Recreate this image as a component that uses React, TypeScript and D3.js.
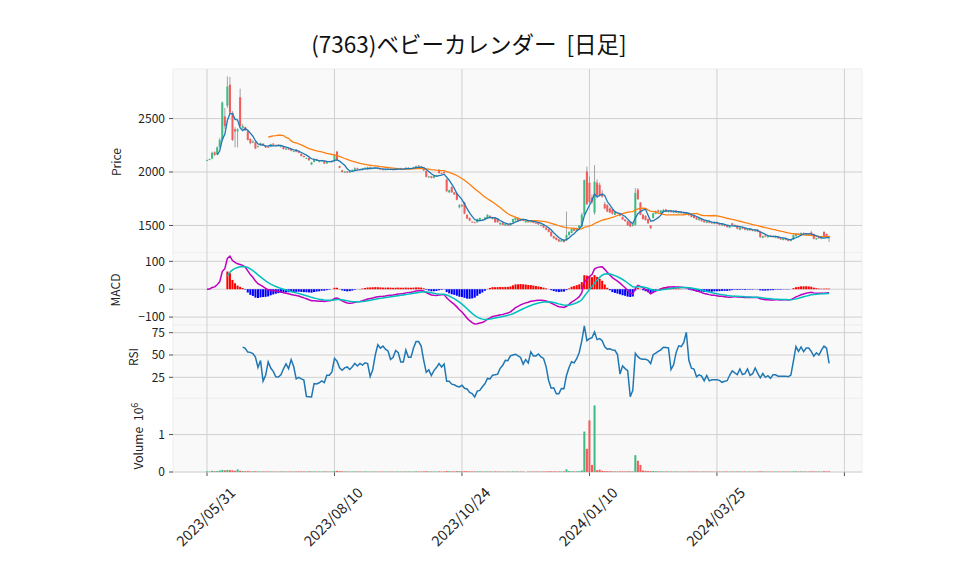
import React from 'react';
import * as d3 from 'd3';

const W = 958;
const H = 575;
const FONT = '"Noto Sans CJK JP", "DejaVu Sans", sans-serif';

const title = '(7363)ベビーカレンダー  [日足]';

// daily candles, one entry per trading day from 2023/05/31
const opens = [
  2108, 2115, 2125, 2185, 2165, 2235, 2300, 2520, 2620, 2817,
  2555, 2400, 2380, 2700, 2410, 2420, 2380, 2310, 2275, 2280,
  2235, 2250, 2265, 2245, 2235, 2240, 2265, 2250, 2255, 2235,
  2240, 2210, 2220, 2215, 2190, 2210, 2190, 2170, 2150, 2125,
  2130, 2070, 2095, 2120, 2095, 2100, 2105, 2080, 2100, 2095,
  2100, 2190, 2055, 2015, 1995, 2005, 1995, 2010, 2015, 2035,
  2025, 2020, 2030, 2025, 2045, 2030, 2035, 2040, 2030, 2025,
  2020, 2025, 2030, 2025, 2020, 2030, 2035, 2025, 2030, 2040,
  2030, 2035, 2035, 2060, 2050, 2040, 2010, 1950, 1960, 1945,
  1965, 2020, 1990, 2000, 1930, 1810, 1860, 1810, 1800, 1670,
  1690, 1715, 1600, 1570, 1535, 1530, 1530, 1545, 1555, 1555,
  1565, 1590, 1560, 1575, 1560, 1510, 1525, 1500, 1510, 1500,
  1530, 1550, 1570, 1545, 1560, 1530, 1545, 1530, 1545, 1525,
  1530, 1495, 1505, 1480, 1465, 1440, 1400, 1385, 1370, 1350,
  1365, 1360, 1410, 1430, 1470, 1450, 1475, 1490, 1600, 2005, 1900,
  1760, 1620, 1900, 1880, 1800, 1700, 1690, 1660, 1650, 1600,
  1615, 1610, 1580, 1555, 1540, 1530, 1495, 1505, 1835, 1715,
  1600, 1590, 1560, 1500, 1570, 1610, 1640, 1615, 1625, 1650,
  1625, 1640, 1620, 1640, 1615, 1630, 1620, 1605, 1615, 1600,
  1590, 1575, 1550, 1560, 1545, 1525, 1540, 1530, 1515, 1530,
  1520, 1500, 1510, 1500, 1480, 1520, 1490, 1500, 1460, 1480,
  1475, 1455, 1470, 1460, 1445, 1460, 1445, 1385, 1405, 1390,
  1405, 1400, 1385, 1395, 1385, 1365, 1380, 1370, 1355, 1370,
  1400, 1425, 1410, 1430, 1415, 1425, 1435, 1420, 1370, 1390,
  1375, 1440, 1420, 1400,
];

const highs = [
  2115, 2125, 2190, 2195, 2240, 2320, 2660, 2600, 2895, 2890,
  2570, 2420, 2410, 2780, 2450, 2425, 2385, 2315, 2300, 2285,
  2250, 2275, 2270, 2250, 2245, 2265, 2270, 2260, 2260, 2245,
  2245, 2225, 2225, 2220, 2200, 2215, 2195, 2175, 2155, 2135,
  2135, 2095, 2125, 2125, 2105, 2115, 2110, 2105, 2105, 2110,
  2170, 2200, 2060, 2020, 2010, 2010, 2015, 2025, 2045, 2040,
  2030, 2035, 2045, 2050, 2050, 2040, 2045, 2045, 2035, 2030,
  2030, 2035, 2035, 2030, 2035, 2040, 2040, 2035, 2045, 2045,
  2040, 2050, 2060, 2065, 2055, 2045, 2015, 1965, 1965, 1970,
  1975, 2025, 1995, 2005, 1935, 1835, 1865, 1815, 1805, 1700,
  1700, 1720, 1605, 1575, 1540, 1535, 1565, 1575, 1560, 1580,
  1605, 1595, 1580, 1580, 1565, 1530, 1530, 1520, 1515, 1525,
  1565, 1580, 1575, 1565, 1565, 1550, 1550, 1550, 1550, 1530,
  1535, 1510, 1510, 1485, 1470, 1445, 1405, 1390, 1375, 1370,
  1370, 1630, 1445, 1475, 1480, 1480, 1505, 1620, 1930, 2050, 1960,
  1790, 2065, 1930, 1900, 1830, 1720, 1700, 1670, 1655, 1635,
  1620, 1615, 1585, 1560, 1545, 1535, 1515, 1850, 1850, 1720,
  1610, 1595, 1565, 1505, 1620, 1640, 1650, 1645, 1655, 1655,
  1645, 1645, 1640, 1645, 1635, 1635, 1625, 1625, 1620, 1605,
  1595, 1580, 1570, 1565, 1550, 1545, 1545, 1535, 1535, 1535,
  1525, 1515, 1515, 1505, 1500, 1525, 1510, 1505, 1485, 1485,
  1480, 1475, 1475, 1465, 1465, 1465, 1450, 1405, 1410, 1410,
  1410, 1405, 1405, 1400, 1390, 1385, 1385, 1375, 1375, 1415,
  1430, 1430, 1435, 1435, 1430, 1430, 1450, 1425, 1385, 1395,
  1390, 1445, 1425, 1405,
];

const lows = [
  2105, 2110, 2120, 2150, 2160, 2220, 2290, 2400, 2600, 2540,
  2290, 2230, 2230, 2420, 2400, 2385, 2295, 2260, 2270, 2215,
  2230, 2245, 2245, 2225, 2225, 2235, 2250, 2245, 2240, 2230,
  2210, 2205, 2205, 2195, 2185, 2185, 2175, 2145, 2135, 2120,
  2105, 2065, 2090, 2105, 2090, 2095, 2075, 2075, 2090, 2090,
  2095, 2105, 2035, 1995, 1990, 1990, 1990, 2005, 2010, 2020,
  2015, 2015, 2025, 2020, 2025, 2025, 2030, 2025, 2020, 2015,
  2015, 2020, 2020, 2015, 2015, 2025, 2020, 2020, 2025, 2025,
  2025, 2030, 2030, 2045, 2040, 2010, 1950, 1945, 1940, 1940,
  1960, 1985, 1980, 1985, 1810, 1805, 1805, 1785, 1735, 1660,
  1675, 1605, 1560, 1540, 1525, 1520, 1525, 1540, 1545, 1550,
  1560, 1565, 1555, 1525, 1525, 1505, 1500, 1495, 1495, 1495,
  1525, 1545, 1540, 1540, 1540, 1525, 1525, 1525, 1520, 1515,
  1505, 1490, 1475, 1455, 1435, 1395, 1375, 1360, 1345, 1345,
  1340, 1355, 1405, 1425, 1445, 1445, 1470, 1480, 1595, 1690, 1710,
  1700, 1600, 1770, 1770, 1760, 1650, 1625, 1615, 1600, 1595,
  1605, 1585, 1550, 1535, 1495, 1485, 1490, 1500, 1740, 1595,
  1555, 1545, 1515, 1465, 1565, 1605, 1620, 1610, 1620, 1625,
  1620, 1620, 1615, 1615, 1610, 1610, 1605, 1600, 1590, 1575,
  1565, 1550, 1545, 1535, 1525, 1520, 1520, 1515, 1510, 1510,
  1500, 1495, 1490, 1480, 1475, 1495, 1485, 1465, 1455, 1465,
  1455, 1450, 1450, 1445, 1440, 1435, 1385, 1380, 1390, 1385,
  1390, 1385, 1380, 1375, 1365, 1360, 1360, 1350, 1350, 1365,
  1395, 1410, 1405, 1415, 1410, 1415, 1410, 1370, 1365, 1375,
  1370, 1385, 1390, 1345,
];

const closes = [
  2112, 2120, 2180, 2160, 2230, 2300, 2650, 2430, 2800, 2555,
  2300, 2380, 2400, 2430, 2430, 2390, 2300, 2270, 2285, 2220,
  2240, 2270, 2250, 2230, 2230, 2260, 2255, 2250, 2245, 2240,
  2215, 2220, 2210, 2200, 2195, 2190, 2180, 2150, 2140, 2130,
  2110, 2090, 2120, 2110, 2100, 2110, 2080, 2100, 2095, 2105,
  2160, 2110, 2040, 2000, 2005, 1995, 2010, 2020, 2035, 2025,
  2020, 2030, 2040, 2045, 2030, 2035, 2040, 2030, 2025, 2020,
  2025, 2030, 2025, 2020, 2030, 2035, 2025, 2030, 2040, 2030,
  2035, 2045, 2055, 2050, 2045, 2015, 1955, 1960, 1945, 1965,
  1970, 1990, 1985, 1990, 1820, 1830, 1810, 1790, 1740, 1690,
  1680, 1610, 1565, 1545, 1530, 1525, 1560, 1570, 1550, 1575,
  1600, 1570, 1575, 1530, 1530, 1525, 1505, 1515, 1498, 1520,
  1560, 1575, 1545, 1560, 1545, 1545, 1530, 1545, 1525, 1520,
  1510, 1505, 1480, 1460, 1440, 1400, 1380, 1365, 1350, 1365,
  1345, 1410, 1440, 1470, 1450, 1475, 1500, 1600, 1925, 1700, 1720,
  1720, 1910, 1780, 1780, 1770, 1660, 1630, 1620, 1610, 1625,
  1610, 1590, 1555, 1540, 1500, 1490, 1510, 1805, 1745, 1600,
  1560, 1550, 1520, 1475, 1615, 1630, 1625, 1640, 1645, 1630,
  1640, 1625, 1635, 1620, 1630, 1615, 1610, 1620, 1595, 1580,
  1570, 1555, 1565, 1540, 1530, 1540, 1525, 1520, 1530, 1515,
  1505, 1510, 1495, 1485, 1495, 1500, 1505, 1470, 1480, 1470,
  1460, 1470, 1455, 1450, 1460, 1440, 1390, 1400, 1395, 1405,
  1395, 1390, 1400, 1380, 1370, 1380, 1365, 1355, 1370, 1410,
  1425, 1415, 1430, 1420, 1425, 1420, 1415, 1375, 1380, 1380,
  1385, 1390, 1395, 1385,
];

const volumes = [
  15000, 12000, 30000, 20000, 25000, 40000, 55000, 45000, 55000, 50000,
  45000, 30000, 70000, 35000, 25000, 20000, 22000, 18000, 15000, 20000,
  15000, 14000, 12000, 13000, 12000, 14000, 12000, 10000, 11000, 12000,
  14000, 12000, 11000, 13000, 12000, 14000, 13000, 15000, 14000, 13000,
  16000, 15000, 14000, 12000, 13000, 12000, 14000, 13000, 12000, 12000,
  25000, 30000, 22000, 18000, 14000, 12000, 13000, 12000, 14000, 12000,
  12000, 11000, 13000, 12000, 10000, 11000, 12000, 10000, 11000, 10000,
  11000, 10000, 12000, 10000, 11000, 12000, 10000, 11000, 13000, 12000,
  11000, 12000, 15000, 14000, 12000, 16000, 20000, 14000, 13000, 12000,
  12000, 15000, 12000, 13000, 25000, 18000, 16000, 15000, 20000, 22000,
  16000, 22000, 20000, 18000, 15000, 14000, 16000, 15000, 12000, 13000,
  15000, 13000, 12000, 14000, 13000, 12000, 12000, 11000, 12000, 12000,
  14000, 13000, 12000, 12000, 11000, 0, 12000, 11000, 12000, 11000,
  12000, 11000, 13000, 14000, 18000, 16000, 15000, 14000, 15000, 14000,
  15000, 70000, 25000, 20000, 18000, 18000, 22000, 40000, 1080000, 620000, 1380000,
  190000, 1780000, 50000, 60000, 30000, 25000, 22000, 20000, 18000, 15000,
  14000, 15000, 16000, 14000, 18000, 16000, 15000, 450000, 300000, 190000,
  40000, 30000, 25000, 22000, 25000, 20000, 18000, 16000, 15000, 14000,
  13000, 12000, 13000, 12000, 12000, 11000, 11000, 12000, 12000, 13000,
  12000, 13000, 11000, 12000, 12000, 11000, 12000, 11000, 10000, 11000,
  12000, 11000, 12000, 11000, 10000, 12000, 11000, 13000, 12000, 11000,
  11000, 10000, 11000, 10000, 11000, 12000, 18000, 14000, 12000, 11000,
  11000, 10000, 11000, 12000, 11000, 10000, 11000, 12000, 11000, 16000,
  15000, 13000, 14000, 12000, 12000, 11000, 14000, 16000, 13000, 12000,
  12000, 18000, 15000, 16000,
];

const xTickIdx = [0, 50, 100, 150, 200, 250];
const xTickLabels = ['2023/05/31', '2023/08/10', '2023/10/24', '2024/01/10', '2024/03/25', ''];
const priceTicks = [1500, 2000, 2500];
const macdTicks = [-100, 0, 100];
const rsiTicks = [25, 50, 75];
const volTicks = [0, 1000000];

const UP = '#3dbd84';
const DOWN = '#f45b5b';

type Pt = number | null;

const sma = (a: number[], n: number): Pt[] =>
  a.map((_, i) => (i < n - 1 ? null : (d3.mean(a.slice(i - n + 1, i + 1)) as number)));

const ema = (a: number[], n: number): number[] => {
  const k = 2 / (n + 1);
  const out: number[] = [];
  a.forEach((v, i) => out.push(i === 0 ? v : out[i - 1] + k * (v - out[i - 1])));
  return out;
};

// RSI with plain rolling means of gains and losses
const rsiCalc = (a: number[], n: number): Pt[] =>
  a.map((_, i) => {
    if (i < n) return null;
    let g = 0, l = 0;
    for (let j = i - n + 1; j <= i; j++) {
      const d = a[j] - a[j - 1];
      if (d > 0) g += d; else l -= d;
    }
    return l === 0 ? 100 : 100 - 100 / (1 + g / l);
  });

const ma5 = sma(closes, 5);
const ma25 = sma(closes, 25);
const e12 = ema(closes, 12);
const e26 = ema(closes, 26);
const macd = closes.map((_, i) => e12[i] - e26[i]);
const sigAll = ema(macd, 9);
const signal: Pt[] = sigAll.map((v, i) => (i < 8 ? null : v));
const hist: Pt[] = macd.map((v, i) => (i < 8 ? null : v - sigAll[i]));
const rsi = rsiCalc(closes, 14);

const L = 173, R = 862;
const panels = {
  price: { top: 69, bottom: 252.5 },
  macd: { top: 252.5, bottom: 325 },
  rsi: { top: 325, bottom: 398.3 },
  vol: { top: 398.3, bottom: 472 },
};

const x = d3.scaleLinear().domain([-13.33, 256.9]).range([L, R]);
const yP = d3.scaleLinear().domain([1247, 2964]).range([panels.price.bottom, panels.price.top]);
const yM = d3.scaleLinear().domain([-128.4, 131.7]).range([panels.macd.bottom, panels.macd.top]);
const yR = d3.scaleLinear().domain([1.5, 83.6]).range([panels.rsi.bottom, panels.rsi.top]);
const yV = d3.scaleLinear().domain([0, 1970000]).range([panels.vol.bottom, panels.vol.top]);

const bw = (x(1) - x(0)) * 0.8;

const linePath = (vals: Pt[], y: d3.ScaleLinear<number, number>) =>
  d3
    .line<Pt>()
    .defined((d) => d !== null)
    .x((_, i) => x(i))
    .y((d) => y(d as number))(vals) || '';

const fmt = (v: number) => (v < 0 ? '\u2212' + Math.abs(v) : String(v));

export default function App() {
  const tickText = { fontFamily: FONT, fontSize: 12, fill: '#222' };
  const yAxis = (ticks: number[], y: d3.ScaleLinear<number, number>, label: (v: number) => string, key: string) =>
    ticks.map((t) => (
      <g key={key + t}>
        <line x1={L} x2={R} y1={y(t)} y2={y(t)} stroke="#d0d0d0" strokeWidth={1} />
        <line x1={L - 4} x2={L} y1={y(t)} y2={y(t)} stroke="#222" strokeWidth={0.8} />
        <text x={L - 8} y={y(t)} dy="0.35em" textAnchor="end" {...tickText}>
          {label(t)}
        </text>
      </g>
    ));

  return (
    <div style={{ position: 'absolute', left: 0, top: 0 }}>
      <svg width={W} height={H} style={{ display: 'block', background: '#fff' }}>
        <text x={469} y={53} textAnchor="middle" fontFamily={FONT} fontSize={22.5} fill="#111" style={{ whiteSpace: 'pre' }}>
          {title}
        </text>

        {Object.entries(panels).map(([k, p]) => (
          <rect key={k} x={L} y={p.top} width={R - L} height={p.bottom - p.top} fill="#f9f9f9" stroke="#eeeeee" strokeWidth={1} />
        ))}

        {xTickIdx.map((t) => (
          <g key={'xt' + t}>
            <line x1={x(t)} x2={x(t)} y1={panels.price.top} y2={panels.vol.bottom} stroke="#d0d0d0" strokeWidth={1} />
            <line x1={x(t)} x2={x(t)} y1={panels.vol.bottom} y2={panels.vol.bottom + 4} stroke="#222" strokeWidth={0.8} />
          </g>
        ))}
        {xTickIdx.map((t, i) => (
          <text key={'xl' + t} transform={`translate(${x(t) - 1},517) rotate(-45)`} textAnchor="middle" dy="0.35em" fontFamily={FONT} fontSize={14.5} fill="#222">
            {xTickLabels[i]}
          </text>
        ))}

        {yAxis(priceTicks, yP, fmt, 'p')}
        {yAxis(macdTicks, yM, fmt, 'm')}
        {yAxis(rsiTicks, yR, fmt, 'r')}
        {yAxis(volTicks, yV, (v) => String(v / 1e6), 'v')}

        {/* candles */}
        {closes.map((c, i) => {
          const o = opens[i];
          const up = c >= o;
          const top = yP(Math.max(o, c));
          const h = Math.max(yP(Math.min(o, c)) - top, 0.8);
          return (
            <g key={'c' + i}>
              <line x1={x(i)} x2={x(i)} y1={yP(highs[i])} y2={yP(lows[i])} stroke="#999" strokeWidth={0.9} />
              <rect x={x(i) - bw / 2} y={top} width={bw} height={h} fill={up ? UP : DOWN} />
            </g>
          );
        })}
        <path d={linePath(ma25, yP)} fill="none" stroke="#ff7f0e" strokeWidth={1.3} />
        <path d={linePath(ma5, yP)} fill="none" stroke="#1f77b4" strokeWidth={1.3} />

        {/* MACD */}
        {hist.map((h, i) =>
          h === null ? null : (
            <rect
              key={'h' + i}
              x={x(i) - bw / 2}
              y={Math.min(yM(h), yM(0))}
              width={bw}
              height={Math.abs(yM(h) - yM(0))}
              fill={h >= 0 ? '#ff0000' : '#0000ff'}
            />
          )
        )}
        <path d={linePath(macd, yM)} fill="none" stroke="#bf00bf" strokeWidth={1.5} />
        <path d={linePath(signal, yM)} fill="none" stroke="#00bfbf" strokeWidth={1.5} />

        {/* RSI */}
        <path d={linePath(rsi, yR)} fill="none" stroke="#1f77b4" strokeWidth={1.5} />

        {/* volume */}
        {volumes.map((v, i) => (
          <rect
            key={'v' + i}
            x={x(i) - bw / 2}
            y={yV(v)}
            width={bw}
            height={Math.max(yV(0) - yV(v), 0)}
            fill={closes[i] >= opens[i] ? UP : DOWN}
          />
        ))}

        <text transform="translate(121,162) rotate(-90)" textAnchor="middle" fontFamily={FONT} fontSize={12} fill="#222">
          Price
        </text>
        <text transform="translate(120,290) rotate(-90)" textAnchor="middle" fontFamily={FONT} fontSize={12} fill="#222">
          MACD
        </text>
        <text transform="translate(137.5,357) rotate(-90)" textAnchor="middle" fontFamily={FONT} fontSize={12} fill="#222">
          RSI
        </text>
        <text transform="translate(142.5,436) rotate(-90)" textAnchor="middle" fontFamily={FONT} fontSize={12} fill="#222">
          Volume{'\u2002'}10<tspan dy={-5} fontSize={9}>6</tspan>
        </text>
      </svg>
    </div>
  );
}
